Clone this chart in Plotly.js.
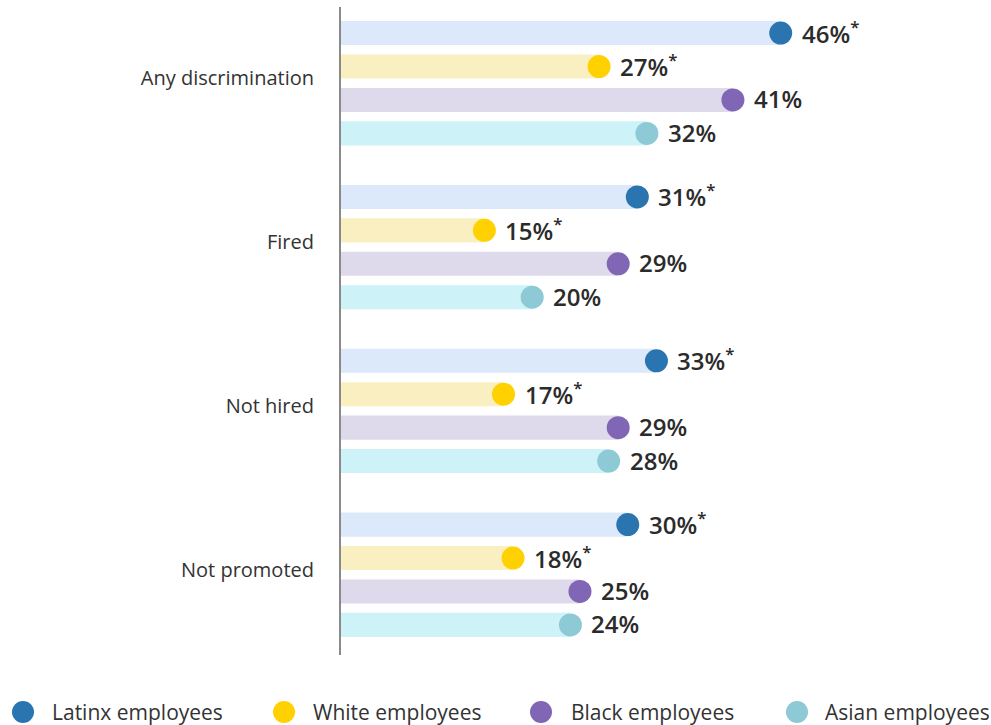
<!DOCTYPE html>
<html>
<head>
<meta charset="utf-8">
<script src="https://cdn.plot.ly/plotly-3.0.1.min.js"></script>
<style>html,body{margin:0;padding:0;background:#fff;}#chart{width:991px;height:725px;}</style>
</head>
<body>
<div id="chart"></div>
<script>
// ---- data ----
const categories = ["Any discrimination", "Fired", "Not hired", "Not promoted"];
const seriesNames = ["Latinx employees", "White employees", "Black employees", "Asian employees"];
const latinx = [46, 31, 33, 30];
const white  = [27, 15, 17, 18];
const black  = [41, 29, 29, 25];
const asian  = [32, 20, 28, 24];
const latinxSig = [true, true, true, true];
const whiteSig  = [true, true, true, true];
const blackSig  = [false, false, false, false];
const asianSig  = [false, false, false, false];

// ---- styling ----
const dotColors = ["#2a75b0", "#ffd100", "#8066b4", "#8dcad6"];
const barColors = ["#dbe9fa", "#f9efc0", "#dedaeb", "#cdf2f7"];
const series = [latinx, white, black, asian];
const sigs = [latinxSig, whiteSig, blackSig, asianSig];
const GROUP_STEP = 4.9;
const yPos = (g, r) => g * GROUP_STEP + r;

const traces = [];
const annotations = [];
series.forEach((vals, r) => {
  const ys = vals.map((v, g) => yPos(g, r));
  traces.push({
    type: "bar", orientation: "h", x: vals, y: ys, base: 0, width: 0.72,
    marker: {color: barColors[r], line: {width: 0}}, hoverinfo: "skip", showlegend: false
  });
  traces.push({
    type: "scatter", mode: "markers", x: vals, y: ys, name: seriesNames[r],
    marker: {color: dotColors[r], size: 23, line: {width: 0}}, showlegend: false, cliponaxis: false
  });
  vals.forEach((v, g) => {
    annotations.push({
      x: v, y: ys[g], xref: "x", yref: "y", xanchor: "left", yanchor: "middle",
      xshift: 19, yshift: 1, showarrow: false,
      text: v + "%" + (sigs[r][g] ? "<sup>*</sup>" : ""),
      font: {family: "Open Sans", size: 24, color: "#2b2b2b", weight: 600}
    });
  });
});

// legend drawn as circles + text below the plot
const L = 341, PW = 650, T = 7, PH = 648;
const legendDotX = [23, 284, 541, 797];
const legendTextX = [50, 311, 569, 823];
const legendY = 712;
const shapes = [];
seriesNames.forEach((n, i) => {
  const px = (legendDotX[i] - L) / PW;
  const py = (T + PH - legendY) / PH;
  shapes.push({
    type: "circle", xref: "paper", yref: "paper", xsizemode: "pixel", ysizemode: "pixel",
    xanchor: px, yanchor: py, x0: -11, x1: 11, y0: -11, y1: 11,
    fillcolor: dotColors[i], line: {width: 0}
  });
  annotations.push({
    x: (legendTextX[i] - L) / PW, y: py, xref: "paper", yref: "paper",
    xanchor: "left", yanchor: "middle", showarrow: false, text: n,
    font: {family: "Open Sans", size: 21, color: "#333"}
  });
});

const layout = {
  width: 991, height: 725,
  margin: {l: L, r: 991 - L - PW, t: T, b: 725 - T - PH},
  paper_bgcolor: "#fff", plot_bgcolor: "#fff",
  barmode: "overlay",
  showlegend: false,
  xaxis: {range: [0, 68], showgrid: false, zeroline: false, showticklabels: false, showline: false, fixedrange: true},
  yaxis: {
    range: [yPos(3, 3) + 0.9, -0.78], showgrid: false, zeroline: false,
    showline: true, linecolor: "#8a8a8a", linewidth: 2,
    tickmode: "array", tickvals: categories.map((c, g) => yPos(g, 1.35)), ticktext: categories,
    ticks: "outside", ticklen: 21, tickcolor: "rgba(0,0,0,0)",
    tickfont: {family: "Open Sans", size: 20, color: "#333"}
  },
  font: {family: "Open Sans"},
  annotations: annotations,
  shapes: shapes
};

Plotly.newPlot("chart", traces, layout, {displayModeBar: false, staticPlot: true});
</script>
</body>
</html>
